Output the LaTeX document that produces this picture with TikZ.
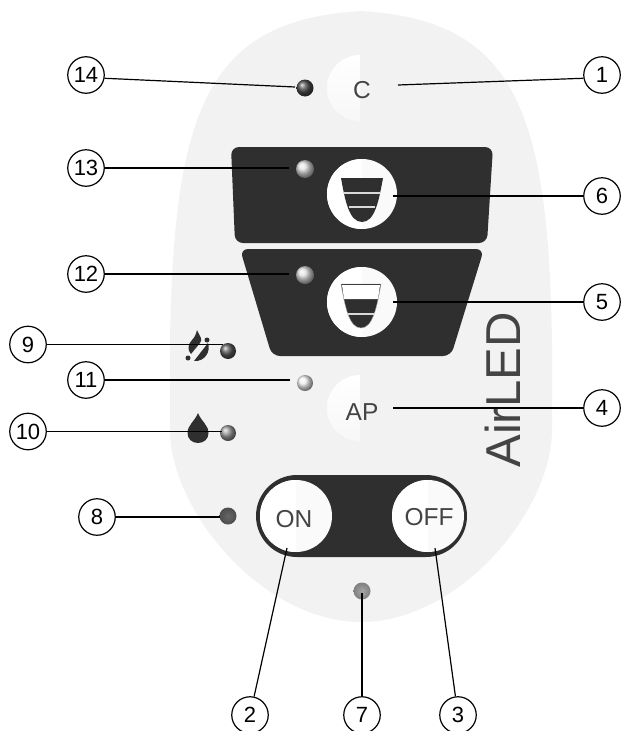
\documentclass[tikz,border=0pt]{standalone}
\usepackage{fontspec}
\setmainfont{Liberation Sans}
\usetikzlibrary{shadings}
\definecolor{panelgray}{HTML}{F2F2F2}
\definecolor{blockdark}{HTML}{2F2F2F}
\definecolor{printgray}{HTML}{444444}
\begin{document}
\begin{tikzpicture}[
        x=1pt, y=-1pt,
        numbered/.style={circle,draw,fill=white,line width=1.2pt,inner sep=0pt,minimum size=36.5pt,font=\fontsize{22}{22}\selectfont},
        leader/.style={line width=1.2pt},
        led/.style={circle,inner sep=0pt,minimum size=17pt},
        printed/.style={inner sep=0pt,text=printgray,font=\fontsize{24.5}{24.5}\selectfont},
        glow/.style={circle,inner sep=0pt,minimum size=66pt,
                path picture={\shade[top color=white,bottom color=white!40!panelgray] (path picture bounding box.north west) rectangle (path picture bounding box.south);}},
        knob/.style={circle,inner sep=0pt,minimum size=#1,fill=white!60!panelgray,
                path picture={\fill[white] (path picture bounding box.north west) rectangle (path picture bounding box.south);}}
    ]
    \path[use as bounding box,clip] (0,0) rectangle (622,731);

    \fill[panelgray] (361,11) .. controls (515,20) and (548,110) .. (552,340) -- (552,430)
        .. controls (552,510) and (460,622) .. (361,622)
        .. controls (262,622) and (170,510) .. (170,430) -- (170,340)
        .. controls (174,110) and (207,20) .. (361,11) -- cycle;

    \fill[blockdark,rounded corners=8] (231,147) -- (493,147) -- (487,243) -- (235,243) -- cycle;
    \fill[blockdark,rounded corners=8] (240,249) -- (484,249) -- (451,356) -- (272,356) -- cycle;
    \fill[blockdark,rounded corners=41] (256,475) rectangle (467,557);

    \node[glow] (glowc) at (360,88) {};
    \node[glow] (glowap) at (360,408) {};
    \node[knob=70pt] (btnfull) at (362,194) {};
    \node[knob=70pt] (btnhalf) at (362,302) {};
    \node[knob=72pt] (btnon) at (296,516) {};
    \node[knob=72pt] (btnoff) at (428,516) {};

    \node[printed] (textc) at (362,90) {C};
    \node[printed] (textap) at (362,412) {AP};
    \node[printed] (texton) at (294,519.5) {ON};
    \node[printed] (textoff) at (429,517.5) {OFF};

    \fill[blockdark] (341,178) -- (383,178) .. controls (379,200) and (375,222) .. (362,222)
        .. controls (349,222) and (345,200) .. (341,178) -- cycle;
    \draw[gray!30,line width=1.8pt] (344,193) -- (380,193);
    \draw[gray!30,line width=1.8pt] (349,207) -- (375,207);

    \fill[blockdark,draw=gray!70] (341,284) -- (381,284) .. controls (377,306) and (373,328) .. (361,328)
        .. controls (349,328) and (345,306) .. (341,284) -- cycle;
    \fill[white] (342,285) -- (380,285) -- (378,299) -- (344,299) -- cycle;
    \draw[gray!30,line width=1.8pt] (347,314) -- (375,314);

    \node[rotate=90,text=printgray,font=\fontsize{49}{49}\selectfont] (brand) at (503,390) {AirLED};

    \fill[blockdark] (198,413) .. controls (201,421) and (208.5,425) .. (208.5,433)
        .. controls (208.5,439) and (204,443) .. (198,443)
        .. controls (192,443) and (187.5,439) .. (187.5,433)
        .. controls (187.5,425) and (195,421) .. (198,413) -- cycle;
    \fill[blockdark] (197,330) .. controls (200,337) and (203,339) .. (200,343) -- (191,354)
        .. controls (187,350) and (188,344) .. (192,340) .. controls (195,337) and (196,334) .. (197,330) -- cycle;
    \fill[blockdark] (208,343) .. controls (211,351) and (205,362) .. (194,361) -- cycle;
    \fill[blockdark] (188,358) circle[radius=2.5];
    \fill[blockdark] (207,340) circle[radius=2.5];

    \node[led,minimum size=17pt,ball color=gray!60!black] (led14) at (305,88) {};
    \node[led,minimum size=18pt,ball color=gray!25] (led13) at (305,169) {};
    \node[led,minimum size=18pt,ball color=gray!25] (led12) at (305,275) {};
    \node[led,minimum size=16pt,ball color=gray!10] (led11) at (305,383) {};
    \node[led,minimum size=16pt,ball color=gray!70!black] (led9) at (228,351) {};
    \node[led,minimum size=16pt,ball color=gray!80] (led10) at (228,433) {};
    \node[led,inner color=gray!80!black,outer color=gray!60!black] (led8) at (228,516) {};
    \node[led,inner color=gray!70,outer color=gray] (led7) at (362,591) {};

    \node[numbered] (c14) at (86,75) {14};
    \node[numbered] (c13) at (86,168) {13};
    \node[numbered] (c12) at (86,274) {12};
    \node[numbered] (c9) at (28,344.5) {9};
    \node[numbered] (c11) at (86,380) {11};
    \node[numbered] (c10) at (28,431.5) {10};
    \node[numbered] (c8) at (97,517) {8};
    \node[numbered] (c1) at (602,75) {1};
    \node[numbered] (c6) at (602,196) {6};
    \node[numbered] (c5) at (602,302) {5};
    \node[numbered] (c4) at (602,408) {4};
    \node[numbered] (c2) at (250,715) {2};
    \node[numbered] (c7) at (362,715) {7};
    \node[numbered] (c3) at (458,715) {3};

    \coordinate (e14) at (295,87);
    \coordinate (e13) at (289,168);
    \coordinate (e12) at (289,274);
    \coordinate (e9) at (223,344.5);
    \coordinate (e11) at (290,380);
    \coordinate (e10) at (222,431.5);
    \coordinate (e8) at (220,517);
    \coordinate (e1) at (398,85);
    \coordinate (e6) at (393,196);
    \coordinate (e5) at (393,302);
    \coordinate (e4) at (393,408);
    \coordinate (e2) at (287,548);
    \coordinate (e7) at (362,593);
    \coordinate (e3) at (435,548);

    \draw[leader] (c14.-10) -- (e14);
    \draw[leader] (c13.east) -- (e13);
    \draw[leader] (c12.east) -- (e12);
    \draw[leader] (c9.east) -- (e9);
    \draw[leader] (c11.east) -- (e11);
    \draw[leader] (c10.east) -- (e10);
    \draw[leader] (c8.east) -- (e8);
    \draw[leader] (c1.190) -- (e1);
    \draw[leader] (c6.west) -- (e6);
    \draw[leader] (c5.west) -- (e5);
    \draw[leader] (c4.west) -- (e4);
    \draw[leader] (c2) -- (e2);
    \draw[leader] (c7) -- (e7);
    \draw[leader] (c3) -- (e3);
\end{tikzpicture}
\end{document}
